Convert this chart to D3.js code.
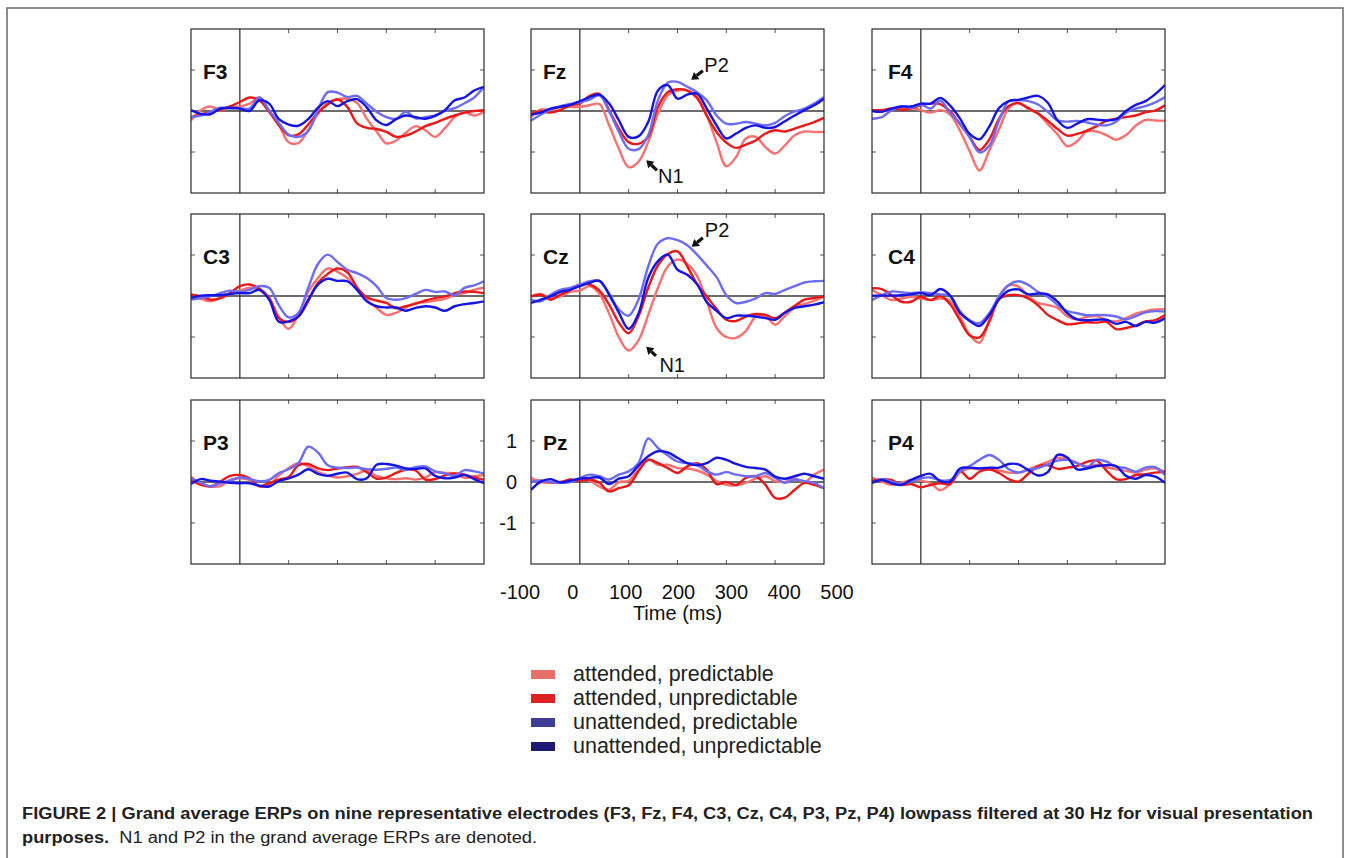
<!DOCTYPE html>
<html>
<head>
<meta charset="utf-8">
<script src="https://cdn.jsdelivr.net/npm/d3@7"></script>
<style>
  body { margin: 0; background: #fff; }
  svg { display: block; }
  text { font-family: "Liberation Sans", Arial, Helvetica, sans-serif; }
</style>
</head>
<body>
<svg id="fig" width="1350" height="858"></svg>
<script>
// Grand average ERPs - nine electrodes, four conditions (D3 v7)

// time axis (ms), one sample every 20 ms
var times = [-100, -80, -60, -40, -20, 0, 20, 40, 60, 80, 100, 120, 140, 160, 180, 200,
  220, 240, 260, 280, 300, 320, 340, 360, 380, 400, 420, 440, 460, 480, 500];

var conditions = ["attended, predictable", "attended, unpredictable",
  "unattended, predictable", "unattended, unpredictable"];

var electrodeRows = [["F3", "Fz", "F4"], ["C3", "Cz", "C4"], ["P3", "Pz", "P4"]];

var xTickValues = [-100, 0, 100, 200, 300, 400, 500];
var yTickValues = [-1, 0, 1];

// amplitudes (arbitrary units), order: ap, au, up, uu
var F3_ap = [-0.23,0.02,0.11,0.02,0.08,0.11,0.18,0.33,0.0,-0.33,-0.76,-0.78,-0.47,-0.07,0.21,0.29,0.30,0.20,-0.19,-0.50,-0.79,-0.72,-0.53,-0.37,-0.47,-0.63,-0.42,-0.15,-0.03,-0.11,-0.02];
var F3_au = [-0.15,-0.08,-0.02,0.03,0.11,0.22,0.33,0.26,-0.02,-0.35,-0.59,-0.57,-0.33,-0.04,0.16,0.28,0.10,-0.30,-0.41,-0.44,-0.51,-0.63,-0.60,-0.50,-0.37,-0.29,-0.19,-0.11,-0.04,0.0,0.02];
var F3_up = [-0.15,-0.11,-0.02,0.08,0.06,0.07,0.06,0.33,0.02,-0.29,-0.58,-0.63,-0.49,0.03,0.46,0.45,0.34,0.37,0.18,-0.02,-0.15,-0.19,-0.02,-0.18,-0.15,-0.11,0.01,0.07,0.19,0.33,0.59];
var F3_uu = [0.02,-0.07,-0.08,0.06,0.08,0.06,0.0,0.26,0.18,-0.20,-0.33,-0.36,-0.20,0.08,0.24,0.12,0.24,0.29,0.09,-0.23,-0.34,-0.20,-0.11,-0.15,-0.19,-0.12,0.02,0.26,0.33,0.50,0.59];

var Fz_ap = [-0.15,0.04,0.02,0.09,0.10,0.10,0.14,0.17,-0.35,-0.92,-1.37,-1.24,-0.76,-0.07,0.38,0.50,0.50,0.34,-0.11,-0.76,-1.35,-1.12,-0.67,-0.63,-0.88,-1.04,-0.84,-0.59,-0.50,-0.51,-0.51];
var Fz_au = [-0.07,-0.01,-0.04,0.02,0.14,0.18,0.37,0.42,0.02,-0.43,-0.76,-0.80,-0.63,0.10,0.46,0.53,0.50,0.32,-0.12,-0.51,-0.77,-0.90,-0.82,-0.72,-0.55,-0.47,-0.50,-0.43,-0.35,-0.27,-0.17];
var Fz_up = [-0.23,-0.09,0.04,0.12,0.17,0.22,0.28,0.38,-0.01,-0.51,-0.92,-0.93,-0.59,0.26,0.69,0.71,0.59,0.46,0.26,-0.11,-0.31,-0.31,-0.27,-0.31,-0.35,-0.29,-0.12,-0.01,0.06,0.18,0.34];
var Fz_uu = [-0.09,-0.04,0.06,0.10,0.15,0.24,0.34,0.40,0.18,-0.23,-0.63,-0.62,-0.27,0.50,0.63,0.30,0.40,0.42,0.06,-0.35,-0.67,-0.55,-0.41,-0.35,-0.41,-0.39,-0.25,-0.11,0.02,0.14,0.30];

var F4_ap = [0.02,0.0,0.03,0.08,0.08,0.02,-0.04,0.02,-0.09,-0.48,-0.98,-1.45,-0.97,-0.45,0.07,0.20,0.05,-0.07,-0.32,-0.57,-0.86,-0.74,-0.50,-0.50,-0.59,-0.70,-0.59,-0.36,-0.22,-0.23,-0.24];
var F4_au = [0.02,0.02,0.06,0.03,0.06,0.14,0.18,0.17,-0.01,-0.32,-0.63,-0.95,-0.70,-0.19,0.12,0.19,0.07,-0.06,-0.24,-0.44,-0.60,-0.56,-0.48,-0.37,-0.24,-0.19,-0.15,-0.11,-0.03,0.01,0.14];
var F4_up = [-0.19,-0.15,0.02,0.11,0.08,0.16,0.06,0.25,-0.05,-0.30,-0.65,-1.01,-0.85,-0.24,0.24,0.27,0.24,0.16,-0.02,-0.23,-0.26,-0.24,-0.28,-0.33,-0.35,-0.26,-0.04,0.06,0.12,0.21,0.34];
var F4_uu = [0.0,-0.02,0.06,0.11,0.11,0.18,0.18,0.32,0.13,-0.18,-0.56,-0.69,-0.38,0.07,0.24,0.27,0.33,0.37,0.20,-0.23,-0.41,-0.31,-0.20,-0.21,-0.23,-0.20,0.0,0.15,0.24,0.41,0.63];

var C3_ap = [0.05,-0.07,-0.13,-0.05,0.05,0.13,0.20,0.15,-0.05,-0.52,-0.80,-0.46,0.10,0.44,0.67,0.59,0.44,0.18,-0.09,-0.29,-0.46,-0.41,-0.28,-0.17,-0.15,-0.11,-0.07,0.03,0.07,0.15,0.20];
var C3_au = [0.03,-0.01,-0.09,-0.05,0.07,0.24,0.28,0.18,-0.05,-0.54,-0.63,-0.50,-0.13,0.32,0.54,0.67,0.58,0.21,-0.03,-0.11,-0.17,-0.30,-0.25,-0.19,-0.11,-0.05,-0.01,0.07,0.11,0.10,0.07];
var C3_up = [-0.09,-0.05,-0.01,0.07,0.13,0.10,0.15,0.24,0.20,-0.23,-0.52,-0.41,0.20,0.78,1.01,0.83,0.64,0.56,0.44,0.24,-0.05,-0.09,-0.05,0.05,0.15,0.10,0.11,0.02,0.20,0.26,0.36];
var C3_uu = [-0.05,0.01,0.02,0.02,0.05,0.07,0.07,0.15,-0.09,-0.63,-0.62,-0.50,-0.09,0.28,0.42,0.37,0.36,0.15,-0.13,-0.25,-0.28,-0.28,-0.36,-0.29,-0.25,-0.28,-0.36,-0.25,-0.20,-0.17,-0.13];

var Cz_ap = [-0.01,0.05,-0.05,-0.01,0.10,0.13,0.24,0.05,-0.43,-1.01,-1.33,-1.08,-0.46,0.20,0.72,0.89,0.78,0.49,-0.13,-0.78,-1.0,-1.02,-0.85,-0.51,-0.49,-0.70,-0.49,-0.28,-0.19,-0.12,-0.01];
var Cz_au = [-0.01,0.03,-0.09,0.03,0.15,0.28,0.28,0.13,-0.21,-0.65,-0.91,-0.50,0.20,0.75,1.02,1.09,0.72,0.29,-0.01,-0.32,-0.58,-0.61,-0.50,-0.44,-0.46,-0.54,-0.40,-0.24,-0.09,-0.05,-0.01];
var Cz_up = [-0.09,-0.13,0.03,0.15,0.20,0.28,0.36,0.37,0.06,-0.33,-0.48,-0.09,0.72,1.28,1.41,1.36,1.24,1.01,0.74,0.46,0.02,-0.17,-0.14,-0.06,0.07,0.05,0.15,0.24,0.33,0.36,0.37];
var Cz_uu = [-0.17,-0.09,-0.01,0.10,0.15,0.24,0.32,0.37,0.03,-0.41,-0.80,-0.43,0.44,0.85,1.01,0.64,0.52,0.29,-0.15,-0.36,-0.54,-0.48,-0.48,-0.50,-0.54,-0.58,-0.41,-0.29,-0.25,-0.21,-0.15];

var C4_ap = [0.15,0.02,-0.10,-0.06,-0.02,-0.06,-0.10,-0.06,-0.12,-0.50,-0.95,-1.14,-0.59,0.0,0.26,0.23,0.0,-0.17,-0.22,-0.29,-0.50,-0.57,-0.51,-0.49,-0.59,-0.62,-0.54,-0.43,-0.37,-0.33,-0.32];
var C4_au = [0.19,0.17,0.02,-0.14,-0.14,-0.02,-0.10,0.0,-0.20,-0.59,-0.96,-1.01,-0.63,-0.08,0.02,0.02,-0.06,-0.23,-0.46,-0.59,-0.69,-0.67,-0.64,-0.65,-0.63,-0.81,-0.78,-0.72,-0.62,-0.59,-0.46];
var C4_up = [-0.10,0.02,0.11,0.09,0.07,0.09,0.07,0.04,0.0,-0.37,-0.59,-0.66,-0.42,-0.02,0.27,0.36,0.27,0.10,-0.02,-0.22,-0.37,-0.42,-0.47,-0.46,-0.47,-0.50,-0.57,-0.49,-0.40,-0.37,-0.38];
var C4_uu = [0.01,0.01,0.01,0.02,0.04,0.07,0.02,0.17,0.01,-0.41,-0.61,-0.73,-0.47,-0.08,0.13,0.16,0.04,0.06,0.04,-0.14,-0.42,-0.57,-0.59,-0.58,-0.58,-0.68,-0.63,-0.73,-0.63,-0.65,-0.54];

var P3_ap = [0.13,-0.03,-0.11,-0.10,0.05,0.09,0.05,-0.11,-0.07,0.16,0.34,0.46,0.38,0.25,0.16,0.11,0.14,0.20,0.28,0.15,0.09,0.07,0.09,0.06,0.11,0.24,0.22,0.21,0.10,0.14,0.17];
var P3_au = [0.05,-0.07,-0.11,0.01,0.15,0.17,0.09,-0.10,-0.03,0.06,0.12,0.41,0.44,0.33,0.29,0.33,0.36,0.37,0.24,0.08,0.11,0.22,0.30,0.28,0.06,0.07,0.16,0.21,0.18,0.11,0.05];
var P3_up = [0.09,-0.02,-0.11,-0.03,0.03,0.11,0.07,0.02,0.05,0.22,0.31,0.46,0.86,0.72,0.41,0.35,0.34,0.35,0.31,0.30,0.32,0.35,0.29,0.36,0.38,0.26,0.21,0.15,0.29,0.26,0.21];
var P3_uu = [-0.05,0.07,0.03,0.01,-0.02,-0.03,-0.03,-0.09,-0.11,0.02,0.09,0.18,0.31,0.20,0.15,0.20,0.23,0.07,0.09,0.42,0.44,0.40,0.33,0.32,0.33,0.15,0.09,0.11,0.17,0.07,-0.03];

var Pz_ap = [0.10,0.0,-0.02,-0.02,0.03,0.06,0.03,-0.11,-0.19,0.0,0.03,0.30,0.55,0.42,0.42,0.34,0.33,0.28,0.18,0.02,-0.07,-0.08,-0.02,0.08,0.14,0.02,0.0,0.08,0.0,0.18,0.30];
var Pz_au = [0.0,0.03,0.0,0.0,0.06,0.03,0.06,-0.02,-0.23,-0.15,-0.08,0.26,0.54,0.46,0.34,0.22,0.38,0.46,0.30,-0.05,0.0,-0.07,0.10,0.14,-0.07,-0.39,-0.38,-0.19,-0.02,-0.07,-0.15];
var Pz_up = [0.0,0.03,0.0,-0.02,0.0,0.10,0.18,0.14,0.06,0.18,0.26,0.46,1.06,0.83,0.65,0.50,0.46,0.42,0.26,0.18,0.24,0.18,0.14,0.14,0.22,0.10,-0.02,0.06,0.02,-0.02,-0.16];
var Pz_uu = [-0.19,0.01,0.07,-0.01,0.03,0.08,0.10,0.11,-0.05,0.08,0.14,0.40,0.63,0.75,0.72,0.59,0.46,0.41,0.46,0.59,0.54,0.44,0.37,0.34,0.30,0.13,0.08,0.14,0.20,0.14,0.08];

var P4_ap = [0.11,0.01,-0.07,-0.02,0.05,0.03,-0.03,-0.20,-0.05,0.23,0.33,0.31,0.30,0.28,0.23,0.23,0.31,0.40,0.49,0.59,0.56,0.46,0.38,0.42,0.36,0.31,0.27,0.23,0.30,0.33,0.25];
var P4_au = [0.03,0.07,0.05,-0.07,-0.05,-0.13,-0.07,-0.03,-0.05,0.27,0.08,0.25,0.31,0.22,0.07,0.01,0.20,0.38,0.41,0.32,0.35,0.39,0.49,0.52,0.28,0.07,0.07,0.17,0.19,0.23,0.25];
var P4_up = [-0.03,0.07,0.01,-0.05,0.01,0.09,0.11,0.04,0.05,0.26,0.39,0.54,0.66,0.54,0.31,0.23,0.30,0.34,0.43,0.52,0.54,0.46,0.36,0.54,0.50,0.37,0.34,0.25,0.35,0.36,0.17];
var P4_uu = [-0.02,0.05,-0.03,-0.07,0.05,0.15,0.20,0.02,0.01,0.33,0.35,0.33,0.35,0.35,0.44,0.43,0.29,0.16,0.24,0.66,0.60,0.31,0.33,0.39,0.41,0.39,0.15,0.08,0.17,0.13,-0.02];

// N1 / P2 markers (time, amplitude) inside Fz and Cz
var annotations = [
  { panel: "Fz", label: "P2", head: [228, 0.76], tail: [252, 0.98], text: [255, 0.95] },
  { panel: "Fz", label: "N1", head: [136, -1.2], tail: [158, -1.45], text: [160, -1.76] },
  { panel: "Cz", label: "P2", head: [229, 1.2], tail: [252, 1.42], text: [256, 1.44] },
  { panel: "Cz", label: "N1", head: [136, -1.24], tail: [156, -1.46], text: [163, -1.85] }
];

var waves = {
  F3: [F3_ap, F3_au, F3_up, F3_uu], Fz: [Fz_ap, Fz_au, Fz_up, Fz_uu], F4: [F4_ap, F4_au, F4_up, F4_uu],
  C3: [C3_ap, C3_au, C3_up, C3_uu], Cz: [Cz_ap, Cz_au, Cz_up, Cz_uu], C4: [C4_ap, C4_au, C4_up, C4_uu],
  P3: [P3_ap, P3_au, P3_up, P3_uu], Pz: [Pz_ap, Pz_au, Pz_up, Pz_uu], P4: [P4_ap, P4_au, P4_up, P4_uu]
};

// styling
var lineColors = ["#fb7070", "#ec1818", "#6c6cf8", "#1414e4"];
var legendColors = ["#e8706a", "#dc2222", "#3d3d94", "#1e1a74"];

var colX = [191, 531, 872];
var rowY = [29, 214, 400];
var W = 293, H = 164;

var svg = d3.select("#fig");
svg.append("rect").attr("width", 1350).attr("height", 858).attr("fill", "#fff");

// outer figure frame
svg.append("rect")
  .attr("x", 7).attr("y", 8).attr("width", 1336).attr("height", 900)
  .attr("fill", "none").attr("stroke", "#6a6a6a").attr("stroke-width", 1.5);

var x = d3.scaleLinear().domain([-100, 500]).range([0, W]);
var y = d3.scaleLinear().domain([-2, 2]).range([H, 0]);

var line = d3.line()
  .x(function (d, i) { return x(times[i]); })
  .y(function (d) { return y(d); })
  .curve(d3.curveCatmullRom.alpha(0.5));

svg.append("defs").append("clipPath").attr("id", "panelClip")
  .append("rect").attr("width", W).attr("height", H);

electrodeRows.forEach(function (row, r) {
  row.forEach(function (name, c) {
    var g = svg.append("g").attr("transform", "translate(" + colX[c] + "," + rowY[r] + ")");

    // zero lines
    g.append("line").attr("x1", 0).attr("x2", W).attr("y1", y(0)).attr("y2", y(0))
      .attr("stroke", "#3a3a3a").attr("stroke-width", 1.3);
    g.append("line").attr("x1", x(0)).attr("x2", x(0)).attr("y1", 0).attr("y2", H)
      .attr("stroke", "#3a3a3a").attr("stroke-width", 1.3);

    // waveforms
    g.append("g").attr("clip-path", "url(#panelClip)")
      .selectAll("path").data(waves[name]).enter().append("path")
      .attr("d", line)
      .attr("fill", "none")
      .attr("stroke", function (d, i) { return lineColors[i]; })
      .attr("stroke-width", 2.4)
      .attr("stroke-linejoin", "round");

    // inner ticks on all four sides
    [100, 200, 300, 400].forEach(function (t) {
      g.append("line").attr("x1", x(t)).attr("x2", x(t)).attr("y1", H).attr("y2", H - 4)
        .attr("stroke", "#555").attr("stroke-width", 1);
      g.append("line").attr("x1", x(t)).attr("x2", x(t)).attr("y1", 0).attr("y2", 4)
        .attr("stroke", "#555").attr("stroke-width", 1);
    });
    [-1, 1].forEach(function (v) {
      g.append("line").attr("x1", 0).attr("x2", 4).attr("y1", y(v)).attr("y2", y(v))
        .attr("stroke", "#555").attr("stroke-width", 1);
      g.append("line").attr("x1", W).attr("x2", W - 4).attr("y1", y(v)).attr("y2", y(v))
        .attr("stroke", "#555").attr("stroke-width", 1);
    });

    // frame
    g.append("rect").attr("width", W).attr("height", H)
      .attr("fill", "none").attr("stroke", "#2a2a2a").attr("stroke-width", 1.2);

    // electrode label
    g.append("text")
      .attr("x", c === 2 ? 16 : 12).attr("y", 50)
      .attr("font-size", 21).attr("font-weight", "bold").attr("fill", "#111")
      .text(name);

    // axes only on the centre bottom panel
    if (name === "Pz") {
      g.selectAll(".ylab").data(yTickValues).enter().append("text")
        .attr("x", -14).attr("y", function (d) { return y(d); })
        .attr("dy", "0.36em").attr("text-anchor", "end")
        .attr("font-size", 20).attr("fill", "#111")
        .text(function (d) { return d; });

      var xl = d3.scaleLinear().domain([-100, 500]).range([-11, 306]);
      g.selectAll(".xlab").data(xTickValues).enter().append("text")
        .attr("x", function (d) { return xl(d); }).attr("y", H + 35)
        .attr("text-anchor", "middle").attr("font-size", 20).attr("fill", "#111")
        .text(function (d) { return d; });

      g.append("text").attr("x", W / 2).attr("y", H + 56)
        .attr("text-anchor", "middle").attr("font-size", 20).attr("fill", "#111")
        .text("Time (ms)");
    }

    // N1 / P2 arrows
    annotations.filter(function (a) { return a.panel === name; }).forEach(function (a) {
      var hx = x(a.head[0]), hy = y(a.head[1]);
      var tx = x(a.tail[0]), ty = y(a.tail[1]);
      var len = Math.hypot(hx - tx, hy - ty);
      var ux = (hx - tx) / len, uy = (hy - ty) / len;
      var bx = hx - ux * 7, by = hy - uy * 7;
      g.append("line").attr("x1", tx).attr("y1", ty).attr("x2", bx).attr("y2", by)
        .attr("stroke", "#111").attr("stroke-width", 3.2);
      g.append("path")
        .attr("d", "M" + hx + "," + hy +
          "L" + (bx - uy * 4.5) + "," + (by + ux * 4.5) +
          "L" + (bx + uy * 4.5) + "," + (by - ux * 4.5) + "Z")
        .attr("fill", "#111");
      g.append("text").attr("x", x(a.text[0])).attr("y", y(a.text[1]))
        .attr("font-size", 20).attr("fill", "#111").text(a.label);
    });
  });
});

// legend
var legend = svg.append("g").attr("transform", "translate(531,674)");
conditions.forEach(function (label, i) {
  legend.append("rect").attr("x", 0).attr("y", i * 24 - 4).attr("width", 24).attr("height", 9)
    .attr("fill", legendColors[i]);
  legend.append("text").attr("x", 42).attr("y", i * 24 + 7)
    .attr("font-size", 21.5).attr("fill", "#222").text(label);
});

// caption
svg.append("text")
  .attr("x", 22).attr("y", 819)
  .attr("font-size", 16).attr("font-weight", "bold").attr("fill", "#222")
  .attr("textLength", 1291).attr("lengthAdjust", "spacingAndGlyphs")
  .text("FIGURE 2 | Grand average ERPs on nine representative electrodes (F3, Fz, F4, C3, Cz, C4, P3, Pz, P4) lowpass filtered at 30 Hz for visual presentation");

var cap2 = svg.append("text")
  .attr("x", 22).attr("y", 843)
  .attr("font-size", 16).attr("fill", "#222")
  .attr("textLength", 515).attr("lengthAdjust", "spacingAndGlyphs");
cap2.append("tspan").attr("font-weight", "bold").text("purposes.");
cap2.append("tspan").text("\u00a0 N1 and P2 in the grand average ERPs are denoted.");
</script>
</body>
</html>
